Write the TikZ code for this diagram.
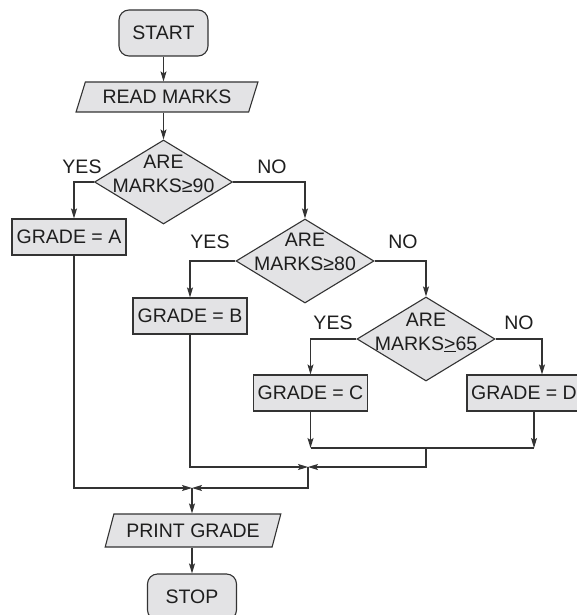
\documentclass[tikz,border=0pt]{standalone}
\usepackage{fontspec}
\setmainfont{Liberation Sans}
\usetikzlibrary{shapes.geometric,arrows.meta}
\definecolor{boxfill}{HTML}{E3E3E5}
\definecolor{ink}{HTML}{333333}
\definecolor{textink}{HTML}{1E1E1E}
\begin{document}
\begin{tikzpicture}[x=1pt,y=-1pt,
  font=\fontsize{19.5}{23.5}\selectfont,
  every node/.append style={text=textink},
  base/.style={draw=ink, fill=boxfill, line width=1.1pt, inner sep=0pt},
  terminal/.style={base, rounded corners=10pt, minimum width=89pt, minimum height=46pt},
  io/.style={base, trapezium, trapezium left angle=62, trapezium right angle=118,
    trapezium stretches=true},
  process/.style={base, minimum width=114pt, minimum height=36pt},
  decision/.style={base, diamond, minimum width=138pt, minimum height=84pt},
  question/.style={align=center, inner sep=0pt, anchor=north},
  answer/.style={inner sep=0pt},
  flow/.style={draw=ink, line width=1.1pt},
  arr/.style={flow, -{Stealth[length=10pt,width=6pt,inset=2pt]}},
]
\useasboundingbox (0,0) rectangle (576,615);

% blocks
\node[terminal] (start) at (163.5,33) {START};
\node[io, minimum width=182pt, minimum height=30pt] (read) at (167,97) {READ MARKS};

\node[decision] (d1) at (163.5,182) {};
\node[question] (q1) at (163.5,155) {ARE\\MARKS≥90};
\node[decision] (d2) at (305,261) {};
\node[question] (q2) at (305,233) {ARE\\MARKS≥80};
\node[decision] (d3) at (426,339) {};
\node[question] (q3) at (426,313) {ARE\\MARKS\underline{>}65};

\node[process] (A) at (69,237) {GRADE = A};
\node[process] (B) at (190,316) {GRADE = B};
\node[process] (C) at (310.5,393) {GRADE = C};
\node[process] (D) at (524,393) {GRADE = D};

\node[io, minimum width=176pt, minimum height=33pt] (print) at (193,530.5) {PRINT GRADE};
\node[terminal] (stop) at (192,597) {STOP};

% branch labels
\node[answer] (y1) at (82,167) {YES};
\node[answer] (n1) at (272,167) {NO};
\node[answer] (y2) at (210,242) {YES};
\node[answer] (n2) at (403,242) {NO};
\node[answer] (y3) at (333,323) {YES};
\node[answer] (n3) at (519,323) {NO};

% junction points of the merging lines
\coordinate (jc) at (310.5,448);
\coordinate (jd) at (534,448);
\coordinate (jm) at (426,448);
\coordinate (m1) at (308,467);
\coordinate (m2) at (192,488);

% connectors
\draw[arr] (start.south -| d1.north) -- (d1.north |- read.north);
\draw[arr] (d1.north |- read.south) -- (d1.north);

\draw[arr] (d1.west) -| ([xshift=5pt]A.north);
\draw[arr] (d1.east) -| (d2.north);
\draw[arr] (d2.west) -| (B.north);
\draw[arr] (d2.east) -| (d3.north);
\draw[arr] (d3.west) -| (C.north);
\draw[arr] (d3.east) -| ([xshift=18pt]D.north);

\draw[arr] (C.south) -- (jc);
\draw[arr] ([xshift=10pt]D.south) -- (jd);
\draw[flow] (jc) -- (jd);
\draw[arr] (jm) |- (m1);
\draw[arr] (B.south) |- (m1);
\draw[arr] (m1) |- (m2);
\draw[arr] ([xshift=5pt]A.south) |- (m2);
\draw[arr] (m2) -- (m2 |- print.north);
\draw[arr] (stop.north |- print.south) -- (stop.north);
\end{tikzpicture}
\end{document}
